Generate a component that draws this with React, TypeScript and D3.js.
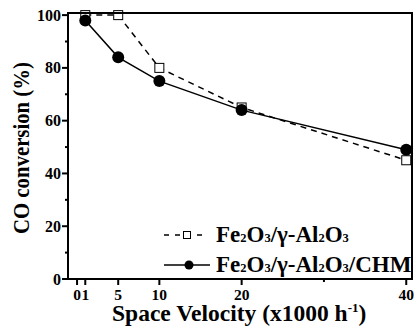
import * as d3 from 'd3';

const velocities = [1, 5, 10, 20, 40];
const fe2o3Al2o3 = [100, 100, 80, 65, 45];
const fe2o3Al2o3Chm = [98, 84, 75, 64, 49];

const xTicks = [0, 1, 5, 10, 20, 40];
const xMinor = [30];
const yTicks = [0, 20, 40, 60, 80, 100];
const yMinor = [10, 30, 50, 70, 90];

const W = 414;
const H = 329;
const margin = { top: 13, right: 2, bottom: 50, left: 68 };
const font = '"Liberation Serif", "Times New Roman", serif';

const x = d3.scaleLinear().domain([-1.1, 40.7]).range([margin.left, W - margin.right]);
const y = d3.scaleLinear().domain([0, 100.8]).range([H - margin.bottom, margin.top]);

const pts = (vals: number[]) => vals.map((v, i) => [velocities[i], v] as [number, number]);
const line = d3.line<[number, number]>().x(d => x(d[0])).y(d => y(d[1]));

// subscripted chemical label
const Chem = ({ parts }: { parts: [string, boolean][] }) => (
  <>
    {parts.map(([t, sub], i) =>
      sub ? (
        <tspan key={i} fontSize="12.5">{t}</tspan>
      ) : (
        <tspan key={i}>{t}</tspan>
      )
    )}
  </>
);

const label1: [string, boolean][] = [['Fe', false], ['2', true], ['O', false], ['3', true], ['/γ-Al', false], ['2', true], ['O', false], ['3', true]];
const label2: [string, boolean][] = [...label1, ['/CHM', false]];

export default function App() {
  const x0 = x.range()[0];
  const x1 = x.range()[1];
  const y0 = y.range()[0];
  const y1 = y.range()[1];

  return (
    <svg width={W} height={H} style={{ position: 'absolute', left: 0, top: 0 }} fontFamily={font} fontWeight="bold">
      <rect width={W} height={H} fill="#fff" />

      {/* y axis ticks */}
      {yTicks.map(t => (
        <g key={'y' + t}>
          <line x1={x0 - 6} x2={x0} y1={y(t)} y2={y(t)} stroke="#000" strokeWidth={2} />
          <text x={x0 - 7} y={y(t)} dy="0.35em" textAnchor="end" fontSize="16">{t}</text>
        </g>
      ))}
      {yMinor.map(t => (
        <line key={'ym' + t} x1={x0 - 3} x2={x0} y1={y(t)} y2={y(t)} stroke="#000" strokeWidth={2} />
      ))}

      {/* x axis ticks */}
      {xTicks.map(t => (
        <g key={'x' + t}>
          <line x1={x(t)} x2={x(t)} y1={y0} y2={y0 + 6} stroke="#000" strokeWidth={2} />
          <text x={x(t)} y={y0 + 21} textAnchor="middle" fontSize="15.5">{t}</text>
        </g>
      ))}
      {xMinor.map(t => (
        <line key={'xm' + t} x1={x(t)} x2={x(t)} y1={y0} y2={y0 + 3} stroke="#000" strokeWidth={2} />
      ))}

      {/* series */}
      <path d={line(pts(fe2o3Al2o3)) ?? ''} fill="none" stroke="#000" strokeWidth={1.5} strokeDasharray="6,5" />
      {pts(fe2o3Al2o3).map(([vx, vy], i) => (
        <rect key={'s' + i} x={x(vx) - 4.5} y={y(vy) - 4.5} width={9} height={9} fill="#fff" stroke="#000" strokeWidth={1} />
      ))}
      <path d={line(pts(fe2o3Al2o3Chm)) ?? ''} fill="none" stroke="#000" strokeWidth={1.5} />
      {pts(fe2o3Al2o3Chm).map(([vx, vy], i) => (
        <circle key={'c' + i} cx={x(vx)} cy={y(vy)} r={6} fill="#000" />
      ))}

      {/* frame */}
      <rect x={x0} y={y1} width={x1 - x0} height={y0 - y1} fill="none" stroke="#000" strokeWidth={2} />

      {/* legend */}
      <line x1={164} x2={208} y1={235} y2={235} stroke="#000" strokeWidth={1.5} strokeDasharray="5,6" />
      <rect x={183.5} y={231.5} width={7} height={7} fill="#fff" stroke="#000" strokeWidth={1} />
      <text x={216} y={242} fontSize="23"><Chem parts={label1} /></text>
      <line x1={164} x2={210} y1={265} y2={265} stroke="#000" strokeWidth={1.5} />
      <circle cx={189} cy={265} r={4.5} fill="#000" />
      <text x={216} y={272} fontSize="23"><Chem parts={label2} /></text>

      {/* axis titles */}
      <text transform={`translate(29,${(y0 + y1) / 2 + 2}) rotate(-90)`} textAnchor="middle" fontSize="23" textLength={172} lengthAdjust="spacingAndGlyphs">
        CO conversion (%)
      </text>
      <text x={112} y={321} fontSize="23.5">
        Space Velocity (x1000 h<tspan fontSize="13" dy="-9">-1</tspan><tspan dy="9">)</tspan>
      </text>
    </svg>
  );
}
